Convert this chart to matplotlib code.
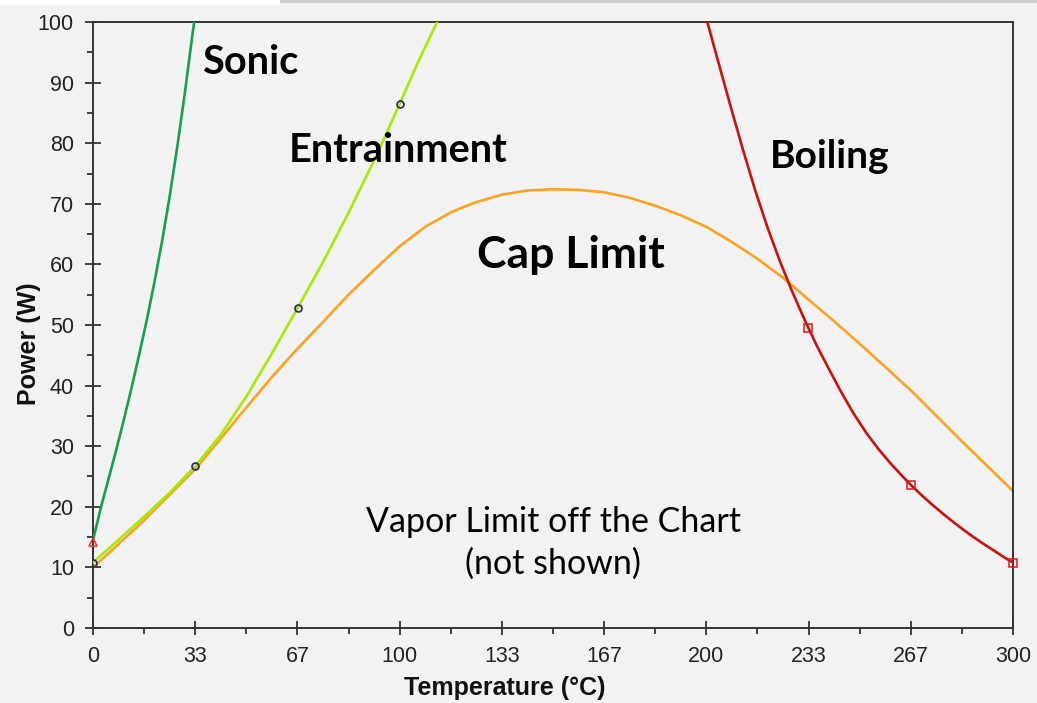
import numpy as np
import matplotlib
matplotlib.use('Agg')
import matplotlib.pyplot as plt
from matplotlib.patches import Rectangle

# Limit curves (temperature in C, power in W)
sonic_t = [0, 2.5, 5, 7.5, 10, 12.5, 15, 17.5, 20, 22.5, 25, 27.5, 30, 32.5, 33.0]
sonic_p = [14.5, 19.75, 24.5, 29.25, 34.25, 39.5, 45.0, 50.75, 57.0, 63.75, 71.25, 79.5, 88.5, 98.25, 100]

entr_t = [0, 8, 16.7, 25, 33.3, 41.7, 50, 58.3, 66.7, 75, 83.3, 91.7, 100, 106, 112.2]
entr_p = [10.8, 14.4, 18.4, 22.3, 26.7, 31.9, 38.2, 45.3, 52.8, 60.4, 68.5, 77.2, 86.5, 93.4, 100]
entr_mark_t = [0, 33.3, 66.7, 100]
entr_mark_p = [10.8, 26.7, 52.8, 86.5]

cap_t = [0, 8, 16.7, 24, 33.3, 41.7, 50, 58.3, 66.7, 75, 83.3, 91.7, 100, 108.3, 116.7,
         125, 133.3, 141.7, 150, 158.3, 166.7, 175, 183.3, 191.7, 200, 208.3, 216.7,
         225, 233.3, 241.7, 250, 258.3, 266.7, 275, 283.3, 291.7, 300]
cap_p = [10, 13.7, 17.8, 21.5, 26.2, 31.3, 36.4, 41.4, 46.1, 50.5, 55.0, 59.1, 63.0, 66.2, 68.6,
         70.3, 71.5, 72.2, 72.4, 72.3, 71.9, 71.0, 69.7, 68.1, 66.2, 63.7, 60.9,
         57.8, 54.2, 50.6, 46.9, 43.1, 39.2, 35.0, 30.8, 26.7, 22.6]

boil_t = [200.3, 204, 208, 212, 216, 220, 224, 228, 232, 233.3, 236, 240, 244, 248, 252,
          256, 260, 264, 266.7, 270, 274, 278, 282, 286, 290, 294, 297, 300]
boil_p = [100, 93.2, 85.9, 78.8, 72.1, 66.0, 60.5, 55.5, 50.9, 49.5, 46.6, 42.7, 38.9, 35.4, 32.3,
          29.6, 27.2, 25.0, 23.6, 22.0, 20.2, 18.5, 16.9, 15.4, 14.0, 12.7, 11.7, 10.8]
boil_mark_t = [233.3, 266.7, 300]
boil_mark_p = [49.5, 23.6, 10.8]

x_labels = ['0', '33', '67', '100', '133', '167', '200', '233', '267', '300']

bg = '#f2f2f2'
fig = plt.figure(figsize=(10.37, 7.03), dpi=100, facecolor=bg)
ax = fig.add_axes([0.0897, 0.1067, 0.8872, 0.8620], facecolor=bg)

ax.plot(cap_t, cap_p, color='#ffa11c', lw=1.9, zorder=2)
ax.plot(sonic_t, sonic_p, color='#14a050', lw=1.9, zorder=3)
ax.plot(entr_t, entr_p, color='#a8ea00', lw=1.9, zorder=3)
ax.plot(boil_t, boil_p, color='#cc1010', lw=1.9, zorder=3)

ax.plot(entr_mark_t, entr_mark_p, ls='none', marker='o', ms=5, mfc='none',
        mec='#24248a', mew=1.2, zorder=4)
ax.plot(boil_mark_t, boil_mark_p, ls='none', marker='s', ms=5.5, mfc='none',
        mec='#e01818', mew=1.1, zorder=4, clip_on=False)
ax.plot(sonic_t[:1], [14.2], ls='none', marker='^', ms=6, mfc='none',
        mec='#ff2a2a', mew=1.1, zorder=4, clip_on=False)

ax.set_xlim(0, 300)
ax.set_ylim(0, 100)
ax.set_xticks(np.arange(10) * 100 / 3)
ax.set_xticklabels(x_labels)
ax.set_xticks(np.arange(9) * 100 / 3 + 50 / 3, minor=True)
ax.set_yticks(np.arange(0, 101, 10))
ax.set_yticks(np.arange(5, 100, 10), minor=True)

for lab in ax.get_xticklabels() + ax.get_yticklabels():
    lab.set_fontfamily('Liberation Sans')
    lab.set_fontsize(15.5)
ax.tick_params(axis='x', which='major', direction='inout', length=9.5, width=1.3,
               color='#333333', labelcolor='#222222', pad=8)
ax.tick_params(axis='y', which='major', direction='inout', length=11.5, width=1.3,
               color='#333333', labelcolor='#222222', pad=8)
ax.tick_params(axis='both', which='minor', direction='out', length=4.2, width=1.3,
               color='#333333')
for s in ax.spines.values():
    s.set_color('#333333')
    s.set_linewidth(1.4)

ax.set_xlabel('Temperature (°C)', fontfamily='Liberation Sans', fontweight='bold',
              fontsize=18, color='#111111')
ax.set_ylabel('Power (W)', fontfamily='Liberation Sans', fontweight='bold',
              fontsize=18, color='#111111')
ax.xaxis.set_label_coords(0.448, -0.080)
ax.yaxis.set_label_coords(-0.057, 0.469)

big = {'family': 'Lato', 'weight': 'bold', 'color': 'black'}
ax.text(35.6, 91.5, 'Sonic', fontsize=28.5, ha='left', va='baseline', **big)
ax.text(63.9, 76.9, 'Entrainment', fontsize=28.6, ha='left', va='baseline', **big)
ax.text(220.8, 75.9, 'Boiling', fontsize=28, ha='left', va='baseline', **big)
ax.text(125.3, 59.4, 'Cap Limit', fontsize=32, ha='left', va='baseline', **big)
ax.text(150.1, 15.9, 'Vapor Limit off the Chart', fontsize=24.5, family='Lato',
        ha='center', va='baseline')
ax.text(150.0, 8.9, '(not shown)', fontsize=24.5, family='Lato',
        ha='center', va='baseline')

# screenshot edge at the top
fig.patches.append(Rectangle((0, 698 / 703), 280 / 1037, 5 / 703, transform=fig.transFigure,
                             facecolor='white', edgecolor='none'))
fig.patches.append(Rectangle((280 / 1037, 700 / 703), 1 - 280 / 1037, 3 / 703,
                             transform=fig.transFigure, facecolor='#d0d0d0', edgecolor='none'))

fig.savefig('out.png', dpi=100, facecolor=bg)
